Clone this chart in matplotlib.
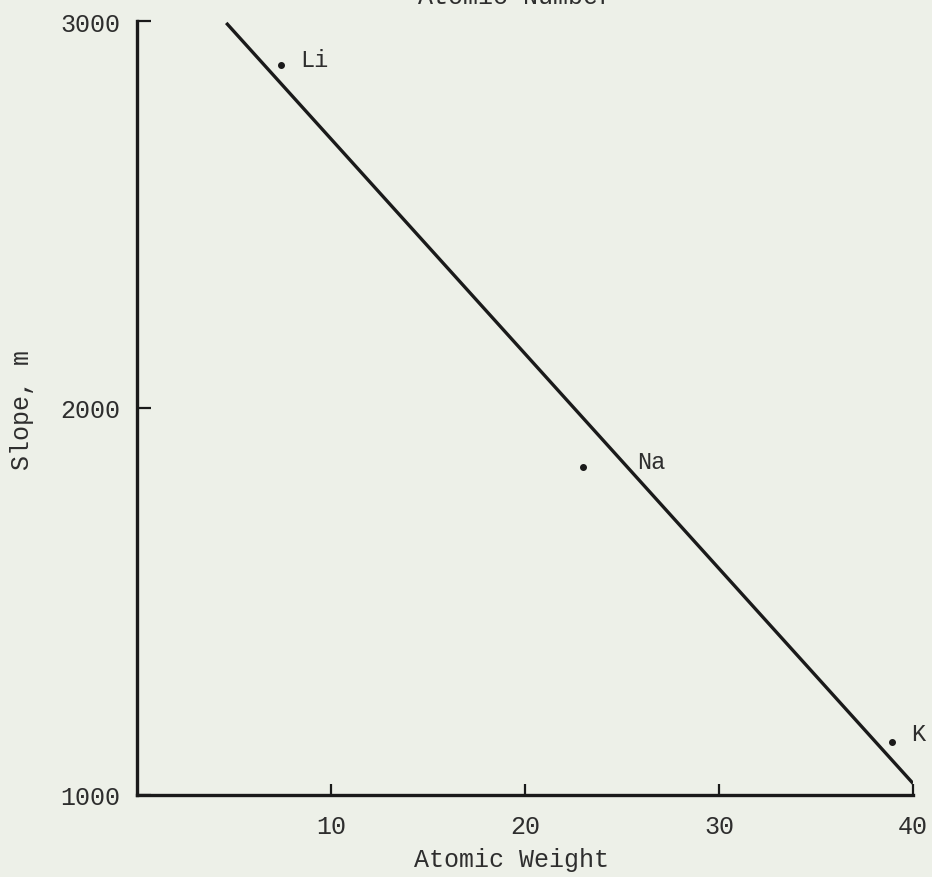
import matplotlib
matplotlib.use("Agg")
import matplotlib.pyplot as plt

# measured points (atomic weight vs slope)
elements = ["Li", "Na", "K"]
atomic_weight = [7.4, 23.0, 38.9]
slope = [2886, 1847, 1137]
label_offsets = [(20, 6), (54, 6), (19, 8)]  # pixels right / up from the dot

# fitted straight line, end points
fit_x = [4.6, 40.0]
fit_y = [2995, 1030]

x_ticks = [10, 20, 30, 40]
y_ticks = [1000, 2000, 3000]

paper = "#edf0e8"
ink = "#1a1a1a"
text_ink = "#2e2e2e"
font = "Liberation Mono"

fig = plt.figure(figsize=(9.32, 8.78), dpi=100, facecolor=paper)
ax = fig.add_axes([137 / 932, 82 / 878, 776 / 932, 774 / 878], facecolor=paper)

ax.plot(fit_x, fit_y, color=ink, lw=2.4, solid_capstyle="butt")
ax.plot(atomic_weight, slope, "o", color=ink, ms=4, ls="none")
for name, x, y, off in zip(elements, atomic_weight, slope, label_offsets):
    ax.annotate(name, (x, y), xytext=off, textcoords="offset pixels",
                ha="left", va="center", fontsize=17, family=font, color=text_ink,
                annotation_clip=False)

ax.set_xlim(0, 40)
ax.set_ylim(1000, 3000)
ax.set_xticks(x_ticks)
ax.set_yticks(y_ticks)
ax.set_xticklabels([str(t) for t in x_ticks], family=font, fontsize=18, color=text_ink)
ax.set_yticklabels([str(t) for t in y_ticks], family=font, fontsize=18, color=text_ink)

for s in ("top", "right"):
    ax.spines[s].set_visible(False)
for s in ("left", "bottom"):
    ax.spines[s].set_linewidth(2.4)
    ax.spines[s].set_color(ink)
ax.tick_params(axis="x", direction="in", length=8, width=1.6, color=ink, pad=14)
ax.tick_params(axis="y", direction="in", length=10, width=1.6, color=ink, pad=12)

# axis titles placed as on the typed sheet
fig.text(512 / 932, 1 - 860 / 878, "Atomic Weight", ha="center", va="center",
         family=font, fontsize=18, color=text_ink)
fig.text(22 / 932, 1 - 410 / 878, "Slope, m", rotation=90, ha="center", va="center",
         family=font, fontsize=18, color=text_ink)
# top title is cut by the page edge in the scan
fig.text(515 / 932, 1 - 4 / 878, "Atomic Number", ha="center", va="baseline",
         family=font, fontsize=18, color=text_ink)

fig.savefig("out.png", dpi=100, facecolor=paper)
